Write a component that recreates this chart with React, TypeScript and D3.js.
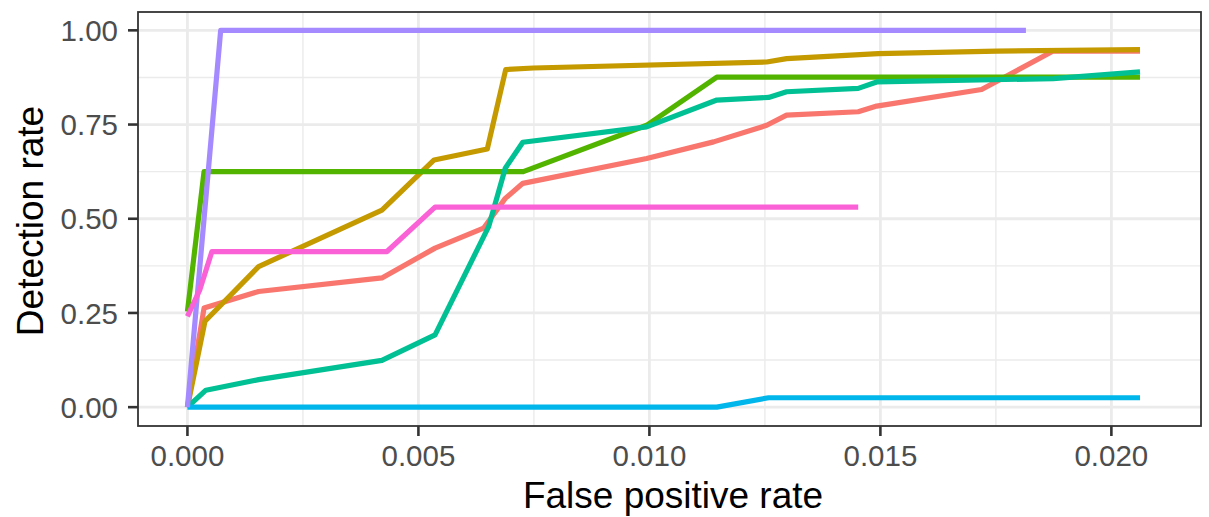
import React from "react";
import * as d3 from "d3";

// ROC-style curves, one per method (ggplot default hue palette)
const seriesNames = ["A", "B", "C", "D", "E", "F", "G"];
const seriesColors = ["#F8766D", "#C49A00", "#53B400", "#00C094", "#00B6EB", "#A58AFF", "#FB61D7"];

const redFpr = [0, 0.00036, 0.00154, 0.00421, 0.00536, 0.00641, 0.00688, 0.00726, 0.00994, 0.01139, 0.01254, 0.01297, 0.01452, 0.01492, 0.01719, 0.01874, 0.02062];
const redTpr = [0, 0.263, 0.307, 0.343, 0.422, 0.475, 0.554, 0.594, 0.66, 0.704, 0.748, 0.775, 0.784, 0.799, 0.843, 0.945, 0.945];

const goldFpr = [0, 0.00038, 0.00154, 0.00421, 0.00534, 0.00649, 0.00689, 0.00749, 0.01254, 0.01297, 0.01495, 0.01752, 0.02062];
const goldTpr = [0, 0.228, 0.373, 0.523, 0.656, 0.685, 0.896, 0.9, 0.916, 0.925, 0.938, 0.945, 0.949];

const greenFpr = [0, 0.00036, 0.00727, 0.00994, 0.01146, 0.02062];
const greenTpr = [0.254, 0.625, 0.625, 0.748, 0.876, 0.876];

const tealFpr = [0, 0.0004, 0.00154, 0.00421, 0.00536, 0.00652, 0.00688, 0.00726, 0.00994, 0.01146, 0.01258, 0.01297, 0.01452, 0.01492, 0.01874, 0.02062];
const tealTpr = [0, 0.045, 0.073, 0.124, 0.192, 0.479, 0.634, 0.703, 0.744, 0.815, 0.822, 0.837, 0.846, 0.863, 0.872, 0.89];

const blueFpr = [0, 0.01146, 0.01258, 0.02062];
const blueTpr = [0, 0, 0.025, 0.025];

const purpleFpr = [0, 0.00072, 0.01815];
const purpleTpr = [0, 1, 1];

const pinkFpr = [0, 0.00027, 0.00053, 0.00432, 0.00536, 0.01452];
const pinkTpr = [0.241, 0.312, 0.413, 0.413, 0.531, 0.531];

const fprs = [redFpr, goldFpr, greenFpr, tealFpr, blueFpr, purpleFpr, pinkFpr];
const tprs = [redTpr, goldTpr, greenTpr, tealTpr, blueTpr, purpleTpr, pinkTpr];

const xTicks = [0, 0.005, 0.01, 0.015, 0.02];
const xMinor = [0.0025, 0.0075, 0.0125, 0.0175];
const yTicks = [0, 0.25, 0.5, 0.75, 1];
const yMinor = [0.125, 0.375, 0.625, 0.875];

const W = 1209;
const H = 517;
const panel = { left: 138, right: 1201, top: 12, bottom: 426 };

export default function App() {
  const x = d3.scaleLinear().domain([-0.00107, 0.02194]).range([panel.left, panel.right]);
  const y = d3.scaleLinear().domain([-0.05, 1.05]).range([panel.bottom, panel.top - 0.5]);

  const line = d3
    .line<[number, number]>()
    .x((d) => x(d[0]))
    .y((d) => y(d[1]));

  const series = seriesNames.map((name, i) => ({
    name,
    color: seriesColors[i],
    pts: fprs[i].map((f, j) => [f, tprs[i][j]] as [number, number]),
  }));

  const font = "Liberation Sans, Arial, Helvetica, sans-serif";

  return (
    <div style={{ position: "absolute", left: 0, top: 0 }}>
      <svg width={W} height={H} style={{ display: "block", background: "#fff" }}>
        {/* grid */}
        <g>
          {xMinor.map((t) => (
            <line key={"xm" + t} x1={x(t)} x2={x(t)} y1={panel.top} y2={panel.bottom} stroke="#EBEBEB" strokeWidth={1.4} />
          ))}
          {yMinor.map((t) => (
            <line key={"ym" + t} x1={panel.left} x2={panel.right} y1={y(t)} y2={y(t)} stroke="#EBEBEB" strokeWidth={1.4} />
          ))}
          {xTicks.map((t) => (
            <line key={"xM" + t} x1={x(t)} x2={x(t)} y1={panel.top} y2={panel.bottom} stroke="#EBEBEB" strokeWidth={2.8} />
          ))}
          {yTicks.map((t) => (
            <line key={"yM" + t} x1={panel.left} x2={panel.right} y1={y(t)} y2={y(t)} stroke="#EBEBEB" strokeWidth={2.8} />
          ))}
        </g>

        {/* lines */}
        <g fill="none" strokeWidth={5.2} strokeLinejoin="round" strokeLinecap="butt">
          {series.map((s) => (
            <path key={s.name} d={line(s.pts) || ""} stroke={s.color} />
          ))}
        </g>

        {/* panel border */}
        <rect
          x={panel.left}
          y={panel.top}
          width={panel.right - panel.left}
          height={panel.bottom - panel.top}
          fill="none"
          stroke="#333333"
          strokeWidth={1.8}
        />

        {/* x axis */}
        <g>
          {xTicks.map((t) => (
            <g key={"xt" + t}>
              <line x1={x(t)} x2={x(t)} y1={panel.bottom} y2={panel.bottom + 10} stroke="#333333" strokeWidth={2.6} />
              <text x={x(t)} y={466} textAnchor="middle" fill="#4D4D4D" style={{ fontFamily: font, fontSize: 29.5 }}>
                {d3.format(".3f")(t)}
              </text>
            </g>
          ))}
        </g>

        {/* y axis */}
        <g>
          {yTicks.map((t) => (
            <g key={"yt" + t}>
              <line x1={panel.left - 10} x2={panel.left} y1={y(t)} y2={y(t)} stroke="#333333" strokeWidth={2.6} />
              <text x={118} y={y(t)} dy="0.36em" textAnchor="end" fill="#4D4D4D" style={{ fontFamily: font, fontSize: 29.5 }}>
                {d3.format(".2f")(t)}
              </text>
            </g>
          ))}
        </g>

        {/* axis titles */}
        <text x={673} y={508} textAnchor="middle" fill="#000" style={{ fontFamily: font, fontSize: 37 }}>
          False positive rate
        </text>
        <text
          transform={`translate(43,${(panel.top + panel.bottom) / 2 + 2}) rotate(-90)`}
          textAnchor="middle"
          fill="#000"
          style={{ fontFamily: font, fontSize: 37 }}
        >
          Detection rate
        </text>
      </svg>
    </div>
  );
}
